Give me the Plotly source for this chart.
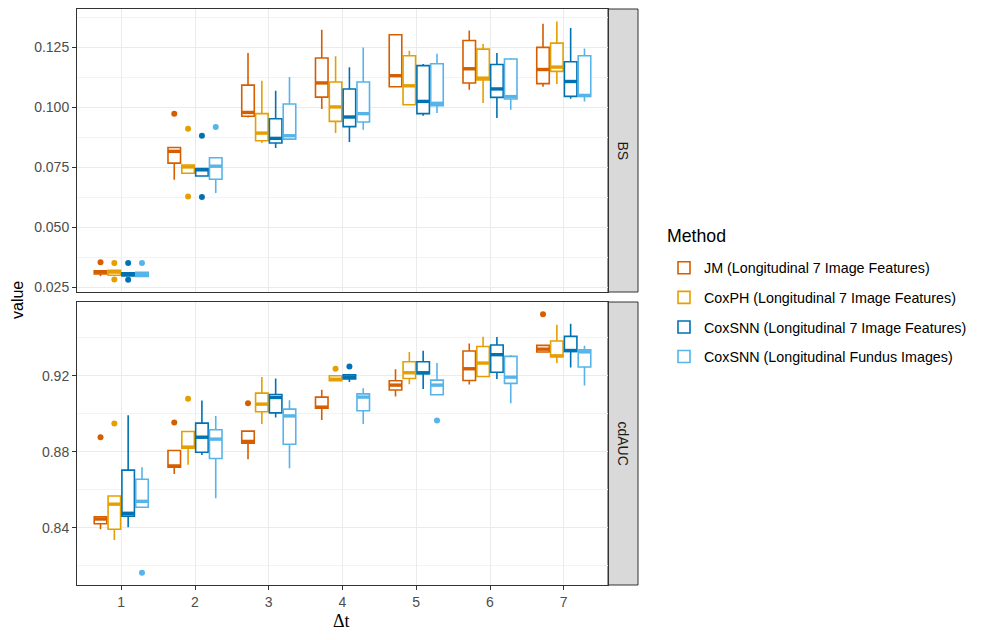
import plotly.graph_objects as go

# ---------------- data ----------------
dt = [1, 2, 3, 4, 5, 6, 7]
methods = ["JM (Longitudinal 7 Image Features)",
           "CoxPH (Longitudinal 7 Image Features)",
           "CoxSNN (Longitudinal 7 Image Features)",
           "CoxSNN (Longitudinal Fundus Images)"]
colors = ["#D55E00", "#E69F00", "#0072B2", "#56B4E9"]

# BS panel: lower whisker, q1, median, q3, upper whisker (per Δt)
bs_lo = [
    [0.0297, 0.0699, 0.0958, 0.0993, 0.1086, 0.1074, 0.1086],
    [0.0301, 0.0726, 0.0852, 0.0893, 0.1011, 0.1018, 0.1098],
    [0.0298, 0.0714, 0.0831, 0.0856, 0.0965, 0.0956, 0.1036],
    [0.0296, 0.0643, 0.0868, 0.0907, 0.0977, 0.0990, 0.1025],
]
bs_q1 = [
    [0.0306, 0.0768, 0.0963, 0.1043, 0.1086, 0.1102, 0.1099],
    [0.0301, 0.0726, 0.0861, 0.0942, 0.1011, 0.1114, 0.1150],
    [0.0298, 0.0714, 0.0852, 0.0920, 0.0974, 0.1042, 0.1046],
    [0.0296, 0.0701, 0.0868, 0.0939, 0.1007, 0.1035, 0.1046],
]
bs_med = [
    [0.0314, 0.0817, 0.0979, 0.1102, 0.1132, 0.1161, 0.1158],
    [0.0314, 0.0752, 0.0893, 0.1002, 0.1090, 0.1122, 0.1168],
    [0.0305, 0.0740, 0.0871, 0.0960, 0.1025, 0.1077, 0.1108],
    [0.0303, 0.0755, 0.0882, 0.0974, 0.1017, 0.1045, 0.1050],
]
bs_q3 = [
    [0.0319, 0.0833, 0.1093, 0.1206, 0.1303, 0.1279, 0.1250],
    [0.0321, 0.0760, 0.0974, 0.1106, 0.1215, 0.1243, 0.1268],
    [0.0311, 0.0745, 0.0953, 0.1077, 0.1174, 0.1179, 0.1190],
    [0.0313, 0.0790, 0.1014, 0.1106, 0.1182, 0.1202, 0.1215],
]
bs_hi = [
    [0.0319, 0.0833, 0.1227, 0.1324, 0.1306, 0.1320, 0.1349],
    [0.0321, 0.0760, 0.1111, 0.1213, 0.1236, 0.1264, 0.1358],
    [0.0311, 0.0745, 0.1069, 0.1167, 0.1181, 0.1227, 0.1331],
    [0.0313, 0.0790, 0.1127, 0.1250, 0.1224, 0.1206, 0.1245],
]
bs_out_dt = [[1, 2], [1, 1, 2, 2], [1, 1, 2, 2], [1, 2]]
bs_out_val = [[0.0355, 0.0974],
              [0.0352, 0.0283, 0.0911, 0.0629],
              [0.0352, 0.0282, 0.0882, 0.0627],
              [0.0352, 0.0918]]

# cdAUC panel
au_lo = [
    [0.8393, 0.8684, 0.8761, 0.8967, 0.9091, 0.9154, 0.9325],
    [0.8337, 0.8732, 0.8946, 0.9174, 0.9156, 0.9196, 0.9267],
    [0.8404, 0.8783, 0.8981, 0.9167, 0.9130, 0.9183, 0.9244],
    [0.8509, 0.8556, 0.8714, 0.8946, 0.9100, 0.9056, 0.9149],
]
au_q1 = [
    [0.8422, 0.8719, 0.8846, 0.9030, 0.9125, 0.9175, 0.9325],
    [0.8393, 0.8819, 0.9011, 0.9174, 0.9186, 0.9196, 0.9300],
    [0.8462, 0.8798, 0.9005, 0.9184, 0.9211, 0.9219, 0.9328],
    [0.8509, 0.8765, 0.8840, 0.9016, 0.9100, 0.9160, 0.9246],
]
au_med = [
    [0.8447, 0.8726, 0.8855, 0.9035, 0.9151, 0.9237, 0.9340],
    [0.8525, 0.8825, 0.9051, 0.9182, 0.9216, 0.9267, 0.9305],
    [0.8477, 0.8877, 0.9086, 0.9193, 0.9216, 0.9311, 0.9333],
    [0.8540, 0.8867, 0.8989, 0.9088, 0.9151, 0.9193, 0.9326],
]
au_q3 = [
    [0.8459, 0.8807, 0.8909, 0.9088, 0.9174, 0.9330, 0.9360],
    [0.8568, 0.8907, 0.9109, 0.9200, 0.9274, 0.9354, 0.9383],
    [0.8704, 0.8951, 0.9102, 0.9205, 0.9274, 0.9362, 0.9407],
    [0.8656, 0.8916, 0.9025, 0.9105, 0.9177, 0.9302, 0.9337],
]
au_hi = [
    [0.8459, 0.8807, 0.8909, 0.9126, 0.9235, 0.9370, 0.9360],
    [0.8568, 0.8907, 0.9193, 0.9200, 0.9325, 0.9405, 0.9468],
    [0.8993, 0.9070, 0.9186, 0.9205, 0.9332, 0.9404, 0.9474],
    [0.8719, 0.8989, 0.9072, 0.9135, 0.9267, 0.9309, 0.9358],
]
au_out_dt = [[1, 2, 3, 7], [1, 2, 4], [4], [1, 5]]
au_out_val = [[0.8877, 0.8954, 0.9056, 0.9523],
              [0.8949, 0.9079, 0.9237],
              [0.9249],
              [0.8165, 0.8965]]

# ---------------- layout constants ----------------
DODGE = 0.1875
BOXW = 0.17
FONT = "Liberation Sans, Arial, sans-serif"
OFF = 8  # page body margin

fig = go.Figure()


def add_panel(lo, q1, med, q3, hi, out_dt, out_val, xa, ya, show_legend):
    for i, (m, c) in enumerate(zip(methods, colors)):
        off = (i - 1.5) * DODGE
        xs = [d + off for d in dt]
        fig.add_trace(go.Box(
            x=xs, q1=q1[i], median=med[i], q3=q3[i],
            lowerfence=lo[i], upperfence=hi[i],
            width=BOXW, whiskerwidth=0, boxpoints=False,
            line=dict(color=c, width=1.6), fillcolor="white",
            name=m, legendgroup=m, showlegend=show_legend,
            xaxis=xa, yaxis=ya, hoverinfo="skip"))
        mx, my = [], []
        for x0, mv in zip(xs, med[i]):
            mx += [x0 - BOXW / 2, x0 + BOXW / 2, None]
            my += [mv, mv, None]
        fig.add_trace(go.Scatter(
            x=mx, y=my, mode="lines", line=dict(color=c, width=3.4),
            legendgroup=m, showlegend=False, xaxis=xa, yaxis=ya,
            hoverinfo="skip"))
        fig.add_trace(go.Scatter(
            x=[d + off for d in out_dt[i]], y=out_val[i], mode="markers",
            marker=dict(color=c, size=6), legendgroup=m, showlegend=False,
            xaxis=xa, yaxis=ya, hoverinfo="skip"))


add_panel(bs_lo, bs_q1, bs_med, bs_q3, bs_hi, bs_out_dt, bs_out_val, "x2", "y2", True)
add_panel(au_lo, au_q1, au_med, au_q3, au_hi, au_out_dt, au_out_val, "x", "y", False)

W, H = 988 - OFF, 640 - OFF
# target page pixels: panel left 77, right 608, top 9, bottom 585
ML, MR, MT, MB = 77 - OFF, W - (608 - OFF), 9 - OFF, H - (585 - OFF)
pw = W - ML - MR
ph = H - MT - MB


def px_x(px):
    return (px - OFF - ML) / pw


def px_y(py):
    return (H - MB - (py - OFF)) / ph


top_dom = [px_y(292), 1.0]
bot_dom = [0.0, px_y(302)]

TICKSZ = 14
axis_common = dict(showline=True, mirror=True, linecolor="#333333", linewidth=1,
                   showgrid=True, gridcolor="#EBEBEB", gridwidth=1.4,
                   zeroline=False, tickfont=dict(family=FONT, size=TICKSZ, color="#4D4D4D"))

fig.update_layout(
    width=W, height=H,
    margin=dict(l=ML, r=MR, t=MT, b=MB, autoexpand=False),
    paper_bgcolor="white", plot_bgcolor="white",
    font=dict(family=FONT, color="#1A1A1A"),
    xaxis=dict(range=[0.4, 7.6], tickmode="array", tickvals=dt,
               ticktext=[str(d) for d in dt], ticks="outside", ticklen=4,
               tickcolor="#333333", anchor="y", **axis_common),
    xaxis2=dict(range=[0.4, 7.6], tickmode="array", tickvals=dt,
                showticklabels=False, ticks="", anchor="y2", matches="x",
                **axis_common),
    yaxis=dict(domain=bot_dom, range=[0.81, 0.9588], tickmode="array",
               tickvals=[0.84, 0.88, 0.92], ticktext=["0.84", "0.88", "0.92"],
               ticks="outside", ticklen=4, tickcolor="#333333", anchor="x",
               minor=dict(tickmode="array", tickvals=[0.82, 0.86, 0.90, 0.94],
                          showgrid=True, gridcolor="#F3F3F3", gridwidth=0.8, ticks=""),
               **axis_common),
    yaxis2=dict(domain=top_dom, range=[0.0231, 0.141], tickmode="array",
                tickvals=[0.025, 0.05, 0.075, 0.1, 0.125],
                ticktext=["0.025", "0.050", "0.075", "0.100", "0.125"],
                ticks="outside", ticklen=4, tickcolor="#333333", anchor="x2",
                minor=dict(tickmode="array",
                           tickvals=[0.0375, 0.0625, 0.0875, 0.1125, 0.1375],
                           showgrid=True, gridcolor="#F3F3F3", gridwidth=0.8, ticks=""),
                **axis_common),
    legend=dict(x=px_x(664), y=px_y(252), xanchor="left", yanchor="top",
                font=dict(family=FONT, size=14.3, color="#000000"),
                tracegroupgap=8, bgcolor="rgba(0,0,0,0)", itemwidth=30),
    showlegend=True,
)

# legend title
fig.add_annotation(xref="paper", yref="paper", x=px_x(665), y=px_y(236), text="Method",
                   showarrow=False, xanchor="left", yanchor="middle",
                   font=dict(family=FONT, size=17.7, color="#000000"))

# strips
x0s, x1s = 1.0, px_x(638)
for dom, lab in [(top_dom, "BS"), (bot_dom, "cdAUC")]:
    fig.add_shape(type="rect", xref="paper", yref="paper", x0=x0s, x1=x1s,
                  y0=dom[0], y1=dom[1], fillcolor="#D9D9D9",
                  line=dict(color="#333333", width=1), layer="below")
    fig.add_annotation(xref="paper", yref="paper", x=(x0s + x1s) / 2,
                       y=(dom[0] + dom[1]) / 2, text=lab, showarrow=False,
                       xanchor="center", yanchor="middle", textangle=90,
                       font=dict(family=FONT, size=14, color="#1A1A1A"))

# axis titles
fig.add_annotation(xref="paper", yref="paper", x=px_x(18), y=px_y(300), text="value",
                   showarrow=False, textangle=-90, xanchor="center", yanchor="middle",
                   font=dict(family=FONT, size=16, color="#000000"))
fig.add_annotation(xref="paper", yref="paper", x=px_x(341), y=px_y(621), text="Δt",
                   showarrow=False, xanchor="center", yanchor="middle",
                   font=dict(family="Liberation Serif, Times New Roman, serif", size=18,
                             color="#000000"))

fig.write_html("out.html")
